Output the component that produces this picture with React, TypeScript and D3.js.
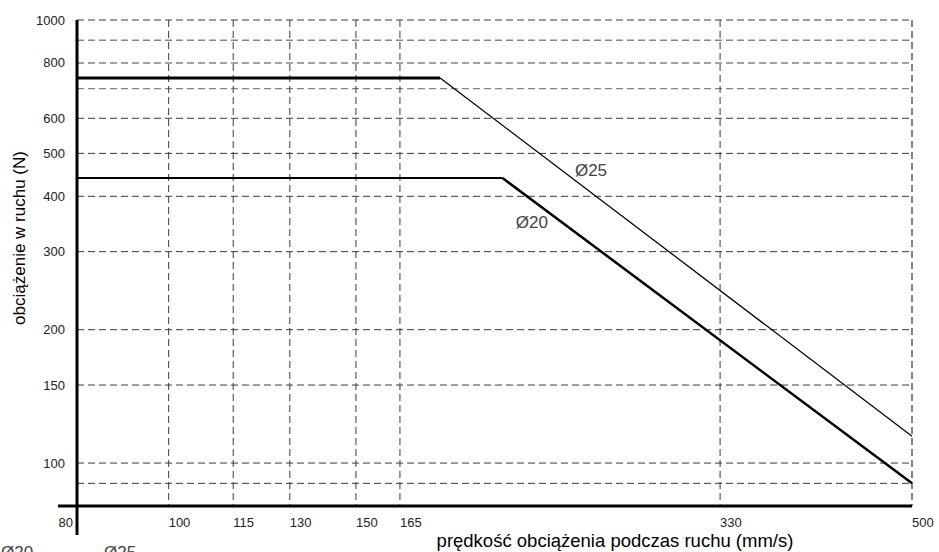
import * as React from "react";
import * as d3 from "d3";

// speed (mm/s) vs load (N), log-log
const xMin = 82;
const xMax = 500;
const xTicks = [100, 115, 130, 150, 165, 330, 500];
const xLabels = [80, 100, 115, 130, 150, 165, 330, 500];
const yGrid = [1000, 900, 800, 700, 600, 500, 400, 300, 200, 150, 100, 90];
const yLabels = [1000, 800, 600, 500, 400, 300, 200, 150, 100];
const yLightGrid = [900, 800, 700];

const speed25 = [xMin, 180, 500];
const load25 = [740, 740, 115];
const speed20 = [xMin, 206, 500];
const load20 = [440, 440, 90];

const seriesLabels = [
  { text: "Ø25", speed: 241, load: 445 },
  { text: "Ø20", speed: 212, load: 339 },
];

const W = 939;
const H = 552;
const PLOT = { left: 77, right: 912, top: 20, bottom: 506 };
const FONT = "'Liberation Sans', Arial, sans-serif";

export default function App() {
  const x = d3.scaleLog().domain([xMin, xMax]).range([PLOT.left, PLOT.right]);
  const y = d3.scaleLog().domain([80, 1000]).range([PLOT.bottom, PLOT.top]);

  const series = [
    { xs: speed25, ys: load25, widths: [3, 1.3] },
    { xs: speed20, ys: load20, widths: [2, 2.5] },
  ];

  return (
    <svg
      width={W}
      height={H}
      style={{ position: "absolute", left: 0, top: 0, background: "#fff" }}
      fontFamily={FONT}
    >
      {/* horizontal gridlines */}
      {yGrid.map((v) => {
        const light = yLightGrid.includes(v);
        return (
          <line
            key={`yg-${v}`}
            x1={PLOT.left}
            x2={PLOT.right}
            y1={y(v)}
            y2={y(v)}
            stroke={light ? "#858585" : "#3a3a3a"}
            strokeWidth={light ? 1.4 : 1}
            strokeDasharray="7 4"
          />
        );
      })}

      {/* vertical gridlines */}
      {xTicks.map((v) => (
        <line
          key={`xg-${v}`}
          x1={x(v)}
          x2={x(v)}
          y1={PLOT.top}
          y2={PLOT.bottom}
          stroke={v === 500 ? "#666" : "#3a3a3a"}
          strokeWidth={v === 500 ? 1.6 : 1}
          strokeDasharray="7 4"
        />
      ))}

      {/* curves */}
      {series.map((s, si) =>
        s.xs.slice(1).map((_, i) => (
          <line
            key={`s-${si}-${i}`}
            x1={x(s.xs[i])}
            y1={y(s.ys[i])}
            x2={x(s.xs[i + 1])}
            y2={y(s.ys[i + 1])}
            stroke="#000"
            strokeWidth={s.widths[i]}
          />
        )),
      )}

      {/* axes */}
      <line x1={PLOT.left} x2={PLOT.left} y1={PLOT.top} y2={535} stroke="#000" strokeWidth={3} />
      <line x1={58} x2={PLOT.right} y1={PLOT.bottom} y2={PLOT.bottom} stroke="#000" strokeWidth={3} />

      {/* y tick labels */}
      {yLabels.map((v) => (
        <text
          key={`yl-${v}`}
          x={65}
          y={y(v)}
          dy="0.35em"
          textAnchor="end"
          fontSize={13}
          fill="#222"
        >
          {v}
        </text>
      ))}

      {/* x tick labels */}
      {xLabels.map((v) => (
        <text
          key={`xl-${v}`}
          x={v === 80 ? PLOT.left - 4 : x(v)}
          y={527}
          textAnchor={v === 80 ? "end" : "start"}
          fontSize={13}
          fill="#222"
        >
          {v}
        </text>
      ))}

      {/* series labels */}
      {seriesLabels.map((l) => (
        <text key={l.text} x={x(l.speed)} y={y(l.load)} fontSize={17} fill="#444">
          {l.text}
        </text>
      ))}

      {/* axis titles */}
      <text x={615} y={547} textAnchor="middle" fontSize={18.5} fill="#000">
        prędkość obciążenia podczas ruchu (mm/s)
      </text>
      <text
        transform="translate(25,238) rotate(-90)"
        textAnchor="middle"
        fontSize={17}
        fill="#000"
      >
        obciążenie w ruchu (N)
      </text>

      {/* clipped labels at bottom edge */}
      <text x={1} y={558} fontSize={17} fill="#444">Ø20</text>
      <text x={104} y={558} fontSize={17} fill="#444">Ø25</text>
    </svg>
  );
}
